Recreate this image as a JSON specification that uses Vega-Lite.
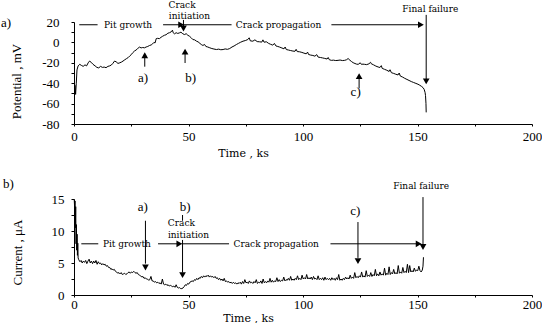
{
  "$schema": "https://vega.github.io/schema/vega-lite/v6.json",
  "padding": 0,
  "bounds": "flush",
  "spacing": 75,
  "config": {
    "view": {"stroke": null},
    "axis": {
      "grid": false,
      "domainColor": "black",
      "domainWidth": 1,
      "tickColor": "black",
      "tickWidth": 1,
      "labelColor": "black",
      "labelFont": "Liberation Serif",
      "labelFontSize": 13,
      "titleColor": "black",
      "titleFontWeight": "normal"
    }
  },
  "datasets": {
    "pot": [
      {"t":0.5,"v":-42},{"t":0.7,"v":-51},{"t":1.0,"v":-40},{"t":1.3,"v":-27},{"t":1.8,"v":-23},{"t":2.5,"v":-21.5},{"t":3.2,"v":-22.5},{"t":4.0,"v":-23.5},{"t":4.8,"v":-22},{"t":5.5,"v":-23},{"t":6.2,"v":-20},{"t":6.8,"v":-18.3},{"t":7.5,"v":-19.5},{"t":8.3,"v":-21.5},{"t":9.2,"v":-23},{"t":10.0,"v":-24.5},{"t":10.8,"v":-25},{"t":11.6,"v":-23.5},{"t":12.4,"v":-24.5},{"t":13.2,"v":-24.2},{"t":14.0,"v":-24.8},{"t":14.8,"v":-23.5},{"t":15.6,"v":-23},{"t":16.3,"v":-22.2},{"t":17.0,"v":-20.5},{"t":17.7,"v":-18.3},{"t":18.4,"v":-19},{"t":19.2,"v":-20.6},{"t":20.0,"v":-20},{"t":20.8,"v":-19.2},{"t":21.4,"v":-18.3},{"t":22.2,"v":-17},{"t":23.0,"v":-15.8},{"t":23.7,"v":-14.8},{"t":24.3,"v":-13.4},{"t":25.0,"v":-12},{"t":25.7,"v":-10},{"t":26.4,"v":-8.5},{"t":27.1,"v":-7.5},{"t":27.8,"v":-6},{"t":28.6,"v":-4.6},{"t":29.3,"v":-5.4},{"t":30.0,"v":-5},{"t":30.8,"v":-5.3},{"t":31.5,"v":-4.5},{"t":32.2,"v":-4},{"t":33.0,"v":-3},{"t":33.7,"v":-2.5},{"t":34.3,"v":-1.5},{"t":34.9,"v":0},{"t":35.4,"v":-0.5},{"t":35.9,"v":3.7},{"t":36.5,"v":4},{"t":37.3,"v":3.7},{"t":38.0,"v":5},{"t":38.7,"v":6},{"t":39.5,"v":7},{"t":40.2,"v":7.5},{"t":41.0,"v":9},{"t":41.7,"v":9.5},{"t":42.4,"v":10.3},{"t":43.0,"v":12},{"t":43.3,"v":9.5},{"t":43.9,"v":8.4},{"t":44.6,"v":9.5},{"t":45.3,"v":8.8},{"t":46.0,"v":9.3},{"t":46.7,"v":10},{"t":47.5,"v":8.5},{"t":48.2,"v":7.7},{"t":49.0,"v":8.5},{"t":49.7,"v":7},{"t":50.4,"v":6.1},{"t":51.2,"v":4.5},{"t":51.9,"v":2.8},{"t":52.7,"v":2.5},{"t":53.5,"v":1.2},{"t":54.2,"v":0.5},{"t":55.0,"v":-1},{"t":55.6,"v":-2.1},{"t":56.3,"v":-3},{"t":57.0,"v":-2},{"t":57.6,"v":-4},{"t":58.4,"v":-4.5},{"t":59.3,"v":-5.3},{"t":60.2,"v":-6},{"t":61.1,"v":-6.5},{"t":62.2,"v":-7},{"t":63.2,"v":-6.6},{"t":64.1,"v":-7.2},{"t":65.1,"v":-7},{"t":66.0,"v":-6.4},{"t":67.0,"v":-6.8},{"t":68.0,"v":-6},{"t":69.0,"v":-4.5},{"t":69.9,"v":-3.5},{"t":70.9,"v":-2.1},{"t":71.8,"v":-1},{"t":72.8,"v":0.2},{"t":73.8,"v":1.2},{"t":74.8,"v":1.8},{"t":75.9,"v":2.8},{"t":76.5,"v":4.5},{"t":77.0,"v":1.5},{"t":78.1,"v":1.2},{"t":79.0,"v":2.5},{"t":80.0,"v":0.8},{"t":81.0,"v":0.6},{"t":82.0,"v":0.3},{"t":82.5,"v":2.5},{"t":83.0,"v":0.2},{"t":84.0,"v":0.6},{"t":85.0,"v":-1},{"t":85.8,"v":-1.8},{"t":86.8,"v":-2.7},{"t":87.5,"v":-1},{"t":88.2,"v":-3.5},{"t":89.0,"v":-4},{"t":89.8,"v":-4.6},{"t":90.8,"v":-5.5},{"t":91.7,"v":-6.3},{"t":92.2,"v":-4.5},{"t":92.7,"v":-7},{"t":93.7,"v":-7.5},{"t":94.6,"v":-8},{"t":95.6,"v":-8.5},{"t":96.5,"v":-8.7},{"t":97.0,"v":-6.8},{"t":97.5,"v":-9},{"t":98.5,"v":-9.2},{"t":99.5,"v":-9.8},{"t":100.4,"v":-10.5},{"t":101.4,"v":-11.2},{"t":102.0,"v":-9.5},{"t":102.4,"v":-11.8},{"t":103.3,"v":-12.4},{"t":104.3,"v":-12.8},{"t":105.2,"v":-13.5},{"t":106.0,"v":-12},{"t":106.6,"v":-14.4},{"t":107.6,"v":-14.8},{"t":108.5,"v":-15.2},{"t":109.5,"v":-15.7},{"t":110.5,"v":-16.3},{"t":111.0,"v":-14.8},{"t":111.5,"v":-17},{"t":112.4,"v":-17.6},{"t":113.3,"v":-17.4},{"t":114.3,"v":-17.8},{"t":115.3,"v":-17.6},{"t":116.2,"v":-17.3},{"t":117.2,"v":-17.8},{"t":118.2,"v":-17.6},{"t":119.0,"v":-17},{"t":119.7,"v":-15.8},{"t":120.5,"v":-17.5},{"t":121.2,"v":-18.8},{"t":121.9,"v":-19.9},{"t":122.7,"v":-20.7},{"t":123.4,"v":-21.3},{"t":124.1,"v":-21.5},{"t":125.0,"v":-20},{"t":125.5,"v":-21.5},{"t":126.2,"v":-21.3},{"t":126.9,"v":-21.5},{"t":127.8,"v":-21.8},{"t":128.8,"v":-21},{"t":129.5,"v":-19.5},{"t":129.8,"v":-20.9},{"t":130.8,"v":-22},{"t":131.8,"v":-23.2},{"t":132.8,"v":-24.1},{"t":133.6,"v":-24.6},{"t":134.2,"v":-22.8},{"t":134.6,"v":-25.5},{"t":135.6,"v":-26.4},{"t":136.6,"v":-27.3},{"t":137.6,"v":-28.5},{"t":138.0,"v":-26.8},{"t":138.6,"v":-29.7},{"t":139.6,"v":-30.4},{"t":140.5,"v":-31.2},{"t":141.5,"v":-31.9},{"t":142.0,"v":-30},{"t":142.5,"v":-33},{"t":143.5,"v":-34},{"t":144.4,"v":-35.2},{"t":145.4,"v":-36.3},{"t":146.3,"v":-37.3},{"t":147.3,"v":-38.4},{"t":148.3,"v":-39.3},{"t":149.3,"v":-40.2},{"t":150.2,"v":-41},{"t":151.0,"v":-42},{"t":151.8,"v":-43.2},{"t":152.4,"v":-44.3},{"t":152.9,"v":-46},{"t":153.3,"v":-49},{"t":153.5,"v":-52},{"t":153.7,"v":-60},{"t":153.8,"v":-68.6}
    ],
    "cur": [
      {"t":0.1,"v":14.9},{"t":0.3,"v":13.5},{"t":0.45,"v":14.7},{"t":0.6,"v":10.5},{"t":0.75,"v":13.8},{"t":0.9,"v":8},{"t":1.05,"v":11},{"t":1.2,"v":7},{"t":1.35,"v":9.5},{"t":1.5,"v":6.2},{"t":1.65,"v":8.1},{"t":1.8,"v":5.8},{"t":2.1,"v":5.5},{"t":2.6,"v":5.2},{"t":3.1,"v":5.4},{"t":3.6,"v":5.0},{"t":4.1,"v":5.3},{"t":4.6,"v":5.1},{"t":5.1,"v":5.4},{"t":5.6,"v":4.9},{"t":6.1,"v":5.3},{"t":6.6,"v":5.6},{"t":7.1,"v":5.0},{"t":7.6,"v":5.3},{"t":8.1,"v":4.9},{"t":8.6,"v":5.3},{"t":9.1,"v":5.0},{"t":9.6,"v":5.4},{"t":10.1,"v":4.8},{"t":10.6,"v":5.2},{"t":11.1,"v":4.9},{"t":11.6,"v":5.0},{"t":12.1,"v":4.7},{"t":12.6,"v":4.9},{"t":13.1,"v":4.7},{"t":13.6,"v":4.8},{"t":14.1,"v":4.5},{"t":14.6,"v":4.6},{"t":15.1,"v":4.3},{"t":15.6,"v":4.3},{"t":16.1,"v":4.0},{"t":16.6,"v":4.1},{"t":17.1,"v":3.9},{"t":17.6,"v":4.0},{"t":18.1,"v":3.7},{"t":18.6,"v":3.6},{"t":19.1,"v":3.4},{"t":19.6,"v":3.5},{"t":20.1,"v":3.3},{"t":20.6,"v":3.5},{"t":21.1,"v":3.2},{"t":21.6,"v":3.3},{"t":22.1,"v":3.4},{"t":22.6,"v":3.2},{"t":23.1,"v":3.3},{"t":23.6,"v":3.5},{"t":24.1,"v":3.6},{"t":24.6,"v":3.4},{"t":25.1,"v":3.6},{"t":25.6,"v":3.5},{"t":26.1,"v":3.7},{"t":26.6,"v":3.5},{"t":27.1,"v":3.4},{"t":27.6,"v":3.5},{"t":28.1,"v":3.2},{"t":28.6,"v":3.1},{"t":29.1,"v":3.0},{"t":29.6,"v":2.8},{"t":30.1,"v":2.9},{"t":30.6,"v":2.6},{"t":31.1,"v":2.7},{"t":31.6,"v":2.5},{"t":32.1,"v":2.5},{"t":32.6,"v":2.3},{"t":33.1,"v":2.4},{"t":33.6,"v":2.9},{"t":34.1,"v":2.2},{"t":34.6,"v":2.2},{"t":35.1,"v":2.0},{"t":35.6,"v":2.1},{"t":36.1,"v":1.9},{"t":36.6,"v":2.0},{"t":37.1,"v":1.8},{"t":37.6,"v":1.9},{"t":38.1,"v":1.7},{"t":38.6,"v":2.5},{"t":39.1,"v":1.7},{"t":39.6,"v":1.6},{"t":40.1,"v":1.7},{"t":40.6,"v":1.5},{"t":41.1,"v":1.6},{"t":41.6,"v":1.4},{"t":42.1,"v":1.5},{"t":42.6,"v":1.4},{"t":43.1,"v":1.3},{"t":43.6,"v":1.4},{"t":44.1,"v":1.2},{"t":44.6,"v":1.6},{"t":45.1,"v":1.2},{"t":45.6,"v":1.1},{"t":46.1,"v":1.15},{"t":46.6,"v":1.0},{"t":47.1,"v":1.0},{"t":47.6,"v":1.1},{"t":48.1,"v":1.3},{"t":48.6,"v":1.6},{"t":49.1,"v":1.5},{"t":49.6,"v":1.8},{"t":50.1,"v":1.7},{"t":50.6,"v":2.0},{"t":51.1,"v":2.1},{"t":51.6,"v":2.2},{"t":52.1,"v":2.1},{"t":52.6,"v":2.4},{"t":53.1,"v":2.3},{"t":53.6,"v":2.6},{"t":54.1,"v":2.4},{"t":54.6,"v":2.7},{"t":55.1,"v":2.6},{"t":55.6,"v":2.9},{"t":56.1,"v":2.7},{"t":56.6,"v":3.0},{"t":57.1,"v":2.8},{"t":57.6,"v":3.0},{"t":58.1,"v":2.9},{"t":58.6,"v":3.1},{"t":59.1,"v":2.8},{"t":59.6,"v":3.0},{"t":60.1,"v":2.8},{"t":60.6,"v":2.9},{"t":61.1,"v":2.7},{"t":61.6,"v":2.9},{"t":62.1,"v":2.6},{"t":62.6,"v":2.7},{"t":63.1,"v":2.4},{"t":63.6,"v":2.6},{"t":64.1,"v":2.3},{"t":64.6,"v":2.5},{"t":65.1,"v":2.2},{"t":65.6,"v":2.6},{"t":66.1,"v":2.1},{"t":66.6,"v":2.2},{"t":67.1,"v":2.0},{"t":67.6,"v":2.1},{"t":68.1,"v":1.9},{"t":68.6,"v":2.0},{"t":69.1,"v":1.8},{"t":69.6,"v":2.0},{"t":70.1,"v":1.8},{"t":70.6,"v":1.9},{"t":71.1,"v":1.7},{"t":71.6,"v":1.9},{"t":72.1,"v":1.8},{"t":72.6,"v":2.0},{"t":73.1,"v":1.7},{"t":73.6,"v":2.1},{"t":74.1,"v":1.8},{"t":74.6,"v":2.4},{"t":75.1,"v":1.9},{"t":75.6,"v":2.0},{"t":76.1,"v":1.8},{"t":76.6,"v":2.2},{"t":77.1,"v":1.9},{"t":77.6,"v":2.0},{"t":78.1,"v":1.8},{"t":78.6,"v":2.1},{"t":79.1,"v":1.9},{"t":79.6,"v":2.4},{"t":80.1,"v":1.8},{"t":80.6,"v":2.0},{"t":81.1,"v":1.9},{"t":81.6,"v":2.2},{"t":82.1,"v":1.8},{"t":82.6,"v":2.5},{"t":83.1,"v":1.9},{"t":83.6,"v":2.1},{"t":84.1,"v":1.9},{"t":84.6,"v":2.2},{"t":85.1,"v":2.0},{"t":85.6,"v":2.6},{"t":86.1,"v":2.0},{"t":86.6,"v":2.3},{"t":87.1,"v":2.0},{"t":87.6,"v":2.2},{"t":88.1,"v":2.1},{"t":88.6,"v":2.7},{"t":89.1,"v":2.1},{"t":89.6,"v":2.4},{"t":90.1,"v":2.1},{"t":90.6,"v":2.3},{"t":91.1,"v":2.2},{"t":91.6,"v":2.8},{"t":92.1,"v":2.2},{"t":92.6,"v":2.4},{"t":93.1,"v":2.3},{"t":93.6,"v":2.6},{"t":94.1,"v":2.3},{"t":94.6,"v":2.9},{"t":95.1,"v":2.3},{"t":95.6,"v":2.5},{"t":96.1,"v":2.3},{"t":96.6,"v":2.6},{"t":97.1,"v":2.4},{"t":97.6,"v":3.0},{"t":98.1,"v":2.4},{"t":98.6,"v":2.6},{"t":99.1,"v":2.4},{"t":99.6,"v":3.1},{"t":100.1,"v":2.5},{"t":100.6,"v":2.7},{"t":101.1,"v":2.5},{"t":101.6,"v":3.2},{"t":102.1,"v":2.5},{"t":102.6,"v":2.7},{"t":103.1,"v":2.5},{"t":103.6,"v":2.8},{"t":104.1,"v":2.4},{"t":104.6,"v":2.9},{"t":105.1,"v":2.5},{"t":105.6,"v":2.6},{"t":106.1,"v":2.4},{"t":106.6,"v":3.0},{"t":107.1,"v":2.4},{"t":107.6,"v":2.6},{"t":108.1,"v":2.4},{"t":108.6,"v":2.7},{"t":109.1,"v":2.3},{"t":109.6,"v":2.8},{"t":110.1,"v":2.4},{"t":110.6,"v":2.6},{"t":111.1,"v":2.4},{"t":111.6,"v":2.6},{"t":112.1,"v":2.3},{"t":112.6,"v":2.7},{"t":113.1,"v":2.4},{"t":113.6,"v":2.6},{"t":114.1,"v":2.3},{"t":114.6,"v":2.7},{"t":115.1,"v":2.4},{"t":115.6,"v":3.2},{"t":116.1,"v":2.3},{"t":116.6,"v":2.5},{"t":117.1,"v":2.3},{"t":117.6,"v":2.6},{"t":118.1,"v":2.4},{"t":118.6,"v":2.8},{"t":119.1,"v":2.5},{"t":119.6,"v":2.7},{"t":120.1,"v":2.5},{"t":120.6,"v":3.1},{"t":121.1,"v":2.6},{"t":121.6,"v":2.8},{"t":122.1,"v":2.6},{"t":122.6,"v":3.5},{"t":123.1,"v":2.7},{"t":123.6,"v":2.9},{"t":124.1,"v":2.7},{"t":124.6,"v":3.0},{"t":125.1,"v":2.8},{"t":125.6,"v":3.6},{"t":126.1,"v":2.8},{"t":126.6,"v":3.0},{"t":127.1,"v":2.8},{"t":127.6,"v":3.8},{"t":128.1,"v":2.9},{"t":128.6,"v":3.1},{"t":129.1,"v":2.9},{"t":129.6,"v":3.5},{"t":130.1,"v":2.9},{"t":130.6,"v":3.2},{"t":131.1,"v":3.0},{"t":131.6,"v":4.0},{"t":132.1,"v":3.0},{"t":132.6,"v":3.3},{"t":133.1,"v":3.0},{"t":133.6,"v":3.6},{"t":134.1,"v":3.1},{"t":134.6,"v":3.3},{"t":135.1,"v":3.1},{"t":135.6,"v":4.2},{"t":136.1,"v":3.1},{"t":136.6,"v":3.4},{"t":137.1,"v":3.2},{"t":137.6,"v":4.4},{"t":138.1,"v":3.2},{"t":138.6,"v":3.5},{"t":139.1,"v":3.3},{"t":139.6,"v":4.0},{"t":140.1,"v":3.3},{"t":140.6,"v":3.5},{"t":141.1,"v":3.3},{"t":141.6,"v":4.6},{"t":142.1,"v":3.4},{"t":142.6,"v":3.6},{"t":143.1,"v":3.4},{"t":143.6,"v":4.3},{"t":144.1,"v":3.5},{"t":144.6,"v":3.7},{"t":145.1,"v":3.5},{"t":145.6,"v":4.8},{"t":146.1,"v":3.5},{"t":146.6,"v":4.6},{"t":147.1,"v":3.6},{"t":147.6,"v":3.8},{"t":148.1,"v":3.6},{"t":148.6,"v":4.2},{"t":149.1,"v":3.7},{"t":149.6,"v":3.9},{"t":150.1,"v":3.8},{"t":150.6,"v":4.5},{"t":151.1,"v":3.8},{"t":151.6,"v":3.6},{"t":152.1,"v":3.9},{"t":152.4,"v":4.5},{"t":152.6,"v":5.9}
    ],
    "rules1": [
      {"t":2.3,"t2":10.3,"v":17.3,"v2":17.3},
      {"t":38.9,"t2":46.5,"v":17.3,"v2":17.3},
      {"t":47.8,"t2":68.8,"v":17.3,"v2":17.3},
      {"t":112.4,"t2":151,"v":17.3,"v2":17.3},
      {"t":47.8,"t2":47.8,"v":22,"v2":14},
      {"t":153.8,"t2":153.8,"v":27,"v2":-37.5},
      {"t":30.9,"t2":30.9,"v":-23.8,"v2":-13},
      {"t":48.5,"t2":48.5,"v":-20.2,"v2":-9.5},
      {"t":124.5,"t2":124.5,"v":-45,"v2":-33.5}
    ],
    "heads1": [
      {"t":46.8,"v":17.3,"dir":"right"},
      {"t":47.8,"v":13.6,"dir":"down"},
      {"t":151.5,"v":17.3,"dir":"right"},
      {"t":153.8,"v":-38.2,"dir":"down"},
      {"t":30.9,"v":-12.6,"dir":"up"},
      {"t":48.5,"v":-9,"dir":"up"},
      {"t":124.5,"v":-33,"dir":"up"}
    ],
    "notes1": [
      {"t":23.6,"v":17.3,"label":"Pit growth"},
      {"t":47.2,"v":36.7,"label":"Crack"},
      {"t":50.4,"v":26.2,"label":"initiation"},
      {"t":89.3,"v":17.3,"label":"Crack propagation"},
      {"t":155.6,"v":32.5,"label":"Final failure"}
    ],
    "marks1": [
      {"t":30.1,"v":-35,"label":"a)"},
      {"t":51,"v":-35,"label":"b)"},
      {"t":123,"v":-48.3,"label":"c)"}
    ],
    "panel1": [{"t":-31.9,"v":19,"label":"a)"}],
    "rules2": [
      {"t":3.2,"t2":10.6,"v":8,"v2":8},
      {"t":36.7,"t2":45.5,"v":8,"v2":8},
      {"t":47,"t2":67.7,"v":8,"v2":8},
      {"t":112,"t2":150,"v":8,"v2":8},
      {"t":31.2,"t2":31.2,"v":11.6,"v2":4.9},
      {"t":47.4,"t2":47.4,"v":12.5,"v2":11.6},
      {"t":47.4,"t2":47.4,"v":8.6,"v2":3.5},
      {"t":124,"t2":124,"v":11.4,"v2":5.8},
      {"t":152.4,"t2":152.4,"v":15.3,"v2":7.8}
    ],
    "heads2": [
      {"t":46,"v":8,"dir":"right"},
      {"t":150.5,"v":8,"dir":"right"},
      {"t":31.2,"v":4.3,"dir":"down"},
      {"t":47.4,"v":3.1,"dir":"down"},
      {"t":124,"v":5.3,"dir":"down"},
      {"t":152.4,"v":7.5,"dir":"down"}
    ],
    "notes2": [
      {"t":23.1,"v":8,"label":"Pit growth"},
      {"t":46.9,"v":11.2,"label":"Crack"},
      {"t":50,"v":9.4,"label":"initiation"},
      {"t":88.3,"v":8,"label":"Crack propagation"},
      {"t":151.6,"v":17.1,"label":"Final failure"}
    ],
    "marks2": [
      {"t":30,"v":13.7,"label":"a)"},
      {"t":48.5,"v":13.7,"label":"b)"},
      {"t":122.8,"v":13.2,"label":"c)"}
    ],
    "panel2": [{"t":-31,"v":17.4,"label":"b)"}]
  },
  "vconcat": [
    {
      "width": 458,
      "height": 102,
      "resolve": {"axis": {"y": "independent"}},
      "layer": [
        {
          "data": {"name": "pot"},
          "mark": {"type": "line", "color": "black", "strokeWidth": 1},
          "encoding": {
            "x": {
              "field": "t", "type": "quantitative", "title": "Time , ks",
              "scale": {"domain": [0, 200], "nice": false},
              "axis": {
                "values": [0, 12.5, 25, 37.5, 50, 62.5, 75, 87.5, 100, 112.5, 125, 137.5, 150, 162.5, 175, 187.5, 200],
                "labelExpr": "datum.value % 50 === 0 ? '' + datum.value : ''",
                "labelOverlap": false, "labelBound": false,
                "labelFlush": false, "tickSize": 2, "labelPadding": 10, "labelBaseline": "middle",
                "titleFont": "DejaVu Serif", "titleFontSize": 11,
                "titleX": 169, "titleY": 29, "titleBaseline": "middle", "titleAlign": "center"
              }
            },
            "y": {
              "field": "v", "type": "quantitative", "title": "Potential , mV",
              "scale": {"domain": [-80, 20], "nice": false},
              "axis": {
                "orient": "left",
                "values": [-80, -60, -40, -20, 0, 20],
                "labelExpr": "'' + datum.value",
                "labelOverlap": false, "labelBound": false, "labelFlush": false,
                "tickSize": 3, "labelPadding": 12,
                "titleFont": "Liberation Serif", "titleFontSize": 13,
                "titleX": -58, "titleY": 59, "titleBaseline": "middle", "titleAlign": "center"
              }
            }
          }
        },
        {
          "data": {"name": "rules1"},
          "mark": {"type": "rule", "color": "black", "strokeWidth": 1},
          "encoding": {
            "x": {"field": "t", "type": "quantitative"},
            "x2": {"field": "t2"},
            "y": {"field": "v", "type": "quantitative",
              "axis": {"orient": "left", "values": [-70, -50, -30, -10, 10], "labels": false, "domain": false, "tickSize": 3, "title": null}},
            "y2": {"field": "v2"}
          }
        },
        {
          "data": {"name": "heads1"},
          "mark": {"type": "point", "filled": true, "color": "black", "opacity": 1, "size": 45},
          "encoding": {
            "x": {"field": "t", "type": "quantitative"},
            "y": {"field": "v", "type": "quantitative", "axis": null},
            "shape": {"field": "dir", "type": "nominal", "legend": null,
              "scale": {"domain": ["up", "down", "right"], "range": ["triangle-up", "triangle-down", "triangle-right"]}}
          }
        },
        {
          "data": {"name": "notes1"},
          "mark": {"type": "text", "font": "DejaVu Serif", "fontSize": 9, "color": "black"},
          "encoding": {
            "x": {"field": "t", "type": "quantitative"},
            "y": {"field": "v", "type": "quantitative", "axis": null},
            "text": {"field": "label"}
          }
        },
        {
          "data": {"name": "marks1"},
          "mark": {"type": "text", "font": "Liberation Serif", "fontSize": 13, "color": "black"},
          "encoding": {
            "x": {"field": "t", "type": "quantitative"},
            "y": {"field": "v", "type": "quantitative", "axis": null},
            "text": {"field": "label"}
          }
        },
        {
          "data": {"name": "panel1"},
          "mark": {"type": "text", "font": "Liberation Serif", "fontSize": 13, "color": "black", "align": "left"},
          "encoding": {
            "x": {"field": "t", "type": "quantitative"},
            "y": {"field": "v", "type": "quantitative", "axis": null},
            "text": {"field": "label"}
          }
        }
      ]
    },
    {
      "width": 458,
      "height": 96,
      "resolve": {"axis": {"y": "independent"}},
      "layer": [
        {
          "data": {"name": "cur"},
          "mark": {"type": "line", "color": "black", "strokeWidth": 1},
          "encoding": {
            "x": {
              "field": "t", "type": "quantitative", "title": "Time , ks",
              "scale": {"domain": [0, 200], "nice": false},
              "axis": {
                "values": [0, 12.5, 25, 37.5, 50, 62.5, 75, 87.5, 100, 112.5, 125, 137.5, 150, 162.5, 175, 187.5, 200],
                "labelExpr": "datum.value % 50 === 0 ? '' + datum.value : ''",
                "labelOverlap": false, "labelBound": false,
                "labelFlush": false, "tickSize": 2, "labelPadding": 7, "labelBaseline": "middle",
                "titleFont": "DejaVu Serif", "titleFontSize": 11,
                "titleX": 174, "titleY": 23, "titleBaseline": "middle", "titleAlign": "center"
              }
            },
            "y": {
              "field": "v", "type": "quantitative", "title": "Current , μA",
              "scale": {"domain": [0, 15], "nice": false},
              "axis": {
                "orient": "left",
                "values": [0, 5, 10, 15],
                "labelExpr": "'' + datum.value",
                "labelOverlap": false, "labelBound": false, "labelFlush": false,
                "tickSize": 3, "labelPadding": 7,
                "titleFont": "Liberation Serif", "titleFontSize": 13,
                "titleX": -57, "titleY": 53, "titleBaseline": "middle", "titleAlign": "center"
              }
            }
          }
        },
        {
          "data": {"name": "rules2"},
          "mark": {"type": "rule", "color": "black", "strokeWidth": 1},
          "encoding": {
            "x": {"field": "t", "type": "quantitative"},
            "x2": {"field": "t2"},
            "y": {"field": "v", "type": "quantitative",
              "axis": {"orient": "left", "values": [2.5, 7.5, 12.5], "labels": false, "domain": false, "tickSize": 3, "title": null}},
            "y2": {"field": "v2"}
          }
        },
        {
          "data": {"name": "heads2"},
          "mark": {"type": "point", "filled": true, "color": "black", "opacity": 1, "size": 45},
          "encoding": {
            "x": {"field": "t", "type": "quantitative"},
            "y": {"field": "v", "type": "quantitative", "axis": null},
            "shape": {"field": "dir", "type": "nominal", "legend": null,
              "scale": {"domain": ["up", "down", "right"], "range": ["triangle-up", "triangle-down", "triangle-right"]}}
          }
        },
        {
          "data": {"name": "notes2"},
          "mark": {"type": "text", "font": "DejaVu Serif", "fontSize": 9, "color": "black"},
          "encoding": {
            "x": {"field": "t", "type": "quantitative"},
            "y": {"field": "v", "type": "quantitative", "axis": null},
            "text": {"field": "label"}
          }
        },
        {
          "data": {"name": "marks2"},
          "mark": {"type": "text", "font": "Liberation Serif", "fontSize": 13, "color": "black"},
          "encoding": {
            "x": {"field": "t", "type": "quantitative"},
            "y": {"field": "v", "type": "quantitative", "axis": null},
            "text": {"field": "label"}
          }
        },
        {
          "data": {"name": "panel2"},
          "mark": {"type": "text", "font": "Liberation Serif", "fontSize": 13, "color": "black", "align": "left"},
          "encoding": {
            "x": {"field": "t", "type": "quantitative"},
            "y": {"field": "v", "type": "quantitative", "axis": null},
            "text": {"field": "label"}
          }
        }
      ]
    }
  ]
}
